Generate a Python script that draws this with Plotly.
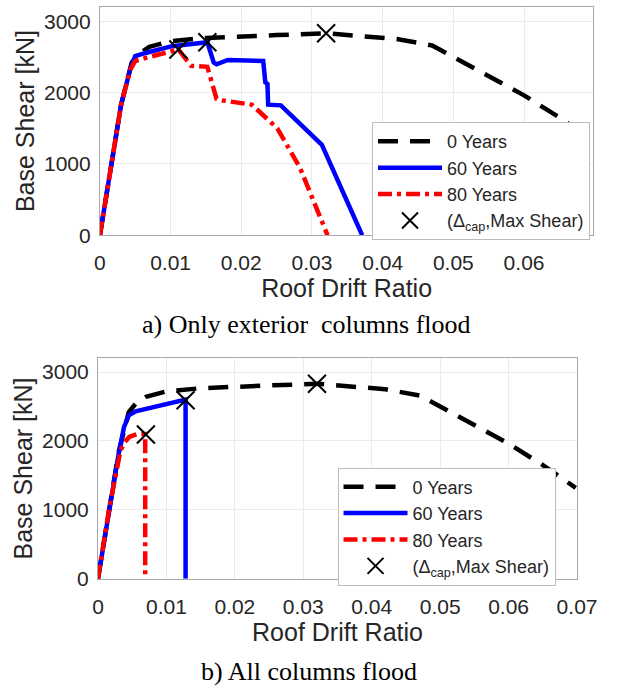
import plotly.graph_objects as go

W, H = 621, 698

# ---------------- data ----------------
# 0 Years (same pushover curve in both panels)
drift_0y = [0, 0.0016, 0.0030, 0.0045, 0.0055, 0.007, 0.010, 0.015, 0.020, 0.025, 0.032,
            0.036, 0.042, 0.047, 0.050, 0.055, 0.060, 0.065, 0.0698]
shear_0y = [0, 1000, 1830, 2420, 2540, 2640, 2720, 2765, 2790, 2805, 2830,
            2800, 2750, 2660, 2500, 2240, 1960, 1650, 1320]

# Panel a) Only exterior columns flood
a_drift_60 = [0, 0.0016, 0.0030, 0.0043, 0.0050, 0.0066, 0.0102, 0.0152, 0.0161, 0.0165,
              0.0181, 0.0231, 0.0234, 0.0237, 0.0238, 0.0256, 0.0314, 0.0371]
a_shear_60 = [0, 1000, 1830, 2330, 2510, 2558, 2650, 2705, 2419, 2396,
              2456, 2442, 2143, 2120, 1829, 1820, 1267, 0]
a_drift_80 = [0, 0.0016, 0.0030, 0.0043, 0.0050, 0.0066, 0.0111, 0.0129, 0.0152, 0.0165,
              0.0174, 0.0215, 0.0251, 0.0283, 0.0322]
a_shear_80 = [0, 1000, 1830, 2320, 2442, 2488, 2604, 2373, 2360, 1912,
              1889, 1829, 1498, 945, 0]
a_cap_drift = [0.0320, 0.0152, 0.0111]
a_cap_shear = [2830, 2705, 2604]

# Panel b) All columns flood
b_drift_60 = [0, 0.0016, 0.0030, 0.0038, 0.0045, 0.0055, 0.0090, 0.0128, 0.0128]
b_shear_60 = [0, 1000, 1800, 2200, 2370, 2430, 2510, 2600, 0]
b_drift_80 = [0, 0.0016, 0.0033, 0.0039, 0.0046, 0.0058, 0.0069, 0.0069]
b_shear_80 = [0, 1000, 1860, 1980, 2060, 2100, 2100, 0]
b_cap_drift = [0.0320, 0.0128, 0.0070]
b_cap_shear = [2830, 2590, 2093]

x_ticks_a = [0, 0.01, 0.02, 0.03, 0.04, 0.05, 0.06]
x_ticks_b = [0, 0.01, 0.02, 0.03, 0.04, 0.05, 0.06, 0.07]
y_ticks = [0, 1000, 2000, 3000]

series_names = ["0 Years", "60 Years", "80 Years", "(\u0394<sub>cap</sub>,Max Shear)"]
captions = ["a) Only exterior\u00a0 columns flood", "b) All columns flood"]

# ---------------- figure ----------------
fig = go.Figure()

BLACK_DASH = "20px,12px"
RED_DASHDOT = "14px,5px,4px,5px"
LW = 4.5

def add_panel(xa, ya, leg, d60, s60, d80, s80, cd, cs):
    fig.add_trace(go.Scatter(x=drift_0y, y=shear_0y, mode="lines", name=series_names[0],
                             line=dict(color="black", width=LW, dash=BLACK_DASH),
                             xaxis=xa, yaxis=ya, legend=leg))
    fig.add_trace(go.Scatter(x=d60, y=s60, mode="lines", name=series_names[1],
                             line=dict(color="#0000ff", width=LW),
                             xaxis=xa, yaxis=ya, legend=leg))
    fig.add_trace(go.Scatter(x=d80, y=s80, mode="lines", name=series_names[2],
                             line=dict(color="#ff0000", width=LW, dash=RED_DASHDOT),
                             xaxis=xa, yaxis=ya, legend=leg))
    fig.add_trace(go.Scatter(x=cd, y=cs, mode="markers", name=series_names[3],
                             marker=dict(symbol="x-thin", size=18, color="black",
                                         line=dict(color="black", width=2)),
                             xaxis=xa, yaxis=ya, legend=leg))

add_panel("x", "y", "legend", a_drift_60, a_shear_60, a_drift_80, a_shear_80, a_cap_drift, a_cap_shear)
add_panel("x2", "y2", "legend2", b_drift_60, b_shear_60, b_drift_80, b_shear_80, b_cap_drift, b_cap_shear)

TXT = "#262626"
FONT = "Liberation Sans, Arial, sans-serif"
tickfont = dict(family=FONT, size=21, color=TXT)
titlefont = dict(family=FONT, size=25, color=TXT)

def px_x(a, b):
    return [a / W, b / W]

def px_y(top, bottom):
    return [1 - bottom / H, 1 - top / H]

common_x = dict(showgrid=True, gridcolor="#ebebeb", gridwidth=1, zeroline=False,
                showline=True, linecolor="#a8a8a8", linewidth=1, mirror=True,
                ticks="", tickfont=tickfont, ticklabelstandoff=9,
                title=dict(text="Roof Drift Ratio", font=titlefont, standoff=5))
common_y = dict(showgrid=True, gridcolor="#ebebeb", gridwidth=1, zeroline=False,
                showline=True, linecolor="#a8a8a8", linewidth=1, mirror=True,
                ticks="", tickfont=tickfont, ticklabelstandoff=4, range=[0, 3200],
                tickvals=y_ticks,
                title=dict(text="Base Shear [kN]", font=titlefont, standoff=2))

legend_common = dict(xanchor="left", yanchor="top", bgcolor="white",
                     bordercolor="#bdbdbd", borderwidth=1,
                     font=dict(family=FONT, size=18, color=TXT), tracegroupgap=0,
                     itemwidth=64)

fig.update_layout(
    width=W, height=H,
    margin=dict(l=0, r=0, t=0, b=0),
    paper_bgcolor="white", plot_bgcolor="white",
    xaxis=dict(domain=px_x(98, 613), anchor="y", range=[0, 0.0698], tickvals=x_ticks_a,
               ticktext=[str(v) for v in x_ticks_a], **common_x),
    yaxis=dict(domain=px_y(7, 239), anchor="x", **common_y),
    xaxis2=dict(domain=px_x(96, 596), anchor="y2", range=[0, 0.07], tickvals=x_ticks_b,
                ticktext=[str(v) for v in x_ticks_b], **common_x),
    yaxis2=dict(domain=px_y(364, 588), anchor="x2", **common_y),
    legend=dict(x=382 / W, y=1 - 124 / H, **legend_common),
    legend2=dict(x=346 / W, y=1 - 475 / H, **legend_common),
    showlegend=True,
)

SERIF = "Liberation Serif, Times New Roman, serif"
fig.add_annotation(text=captions[0], x=314 / W, y=1 - 330 / H, xref="paper", yref="paper",
                   showarrow=False, xanchor="center", yanchor="middle",
                   font=dict(family=SERIF, size=26, color="black"))
fig.add_annotation(text=captions[1], x=316 / W, y=1 - 682 / H, xref="paper", yref="paper",
                   showarrow=False, xanchor="center", yanchor="middle",
                   font=dict(family=SERIF, size=26, color="black"))

fig.write_html("out.html")
